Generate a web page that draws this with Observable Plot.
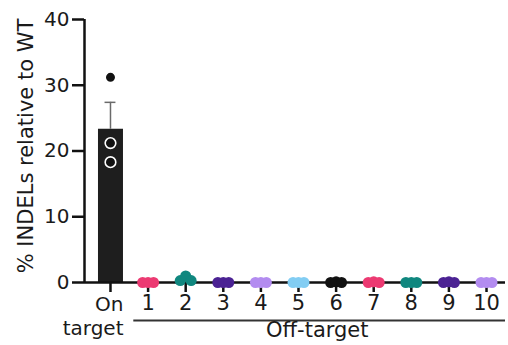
<!DOCTYPE html>
<html>
<head>
<meta charset="utf-8">
<script src="https://cdn.jsdelivr.net/npm/d3@7"></script>
<script src="https://cdn.jsdelivr.net/npm/@observablehq/plot@0.6"></script>
<style>
  html, body { margin: 0; padding: 0; background: #fff; }
  #chart svg { display: block; }
</style>
</head>
<body>
<div id="chart"></div>
<script>
// ---- data ----
const categories = ["On", "1", "2", "3", "4", "5", "6", "7", "8", "9", "10"];
const onTargetReps = [31.2, 21.2, 18.3];
const onTargetMean = 23.3;
const onTargetSem = 4.1;
const offTargetReps = [
  [0, 0, 0],
  [0.3, 1.0, 0.3],
  [0, 0, 0],
  [0, 0, 0],
  [0, 0, 0],
  [0, 0.1, 0],
  [0, 0.1, 0],
  [0, 0, 0],
  [0, 0.1, 0],
  [0, 0, 0]
];
const offTargetColors = ["#ec3a72", "#10877f", "#4b2293", "#b38cf0", "#82cdf3",
                         "#111111", "#ec3a72", "#10877f", "#4b2293", "#b38cf0"];
const yTicks = [0, 10, 20, 30, 40];
const yLabel = "% INDELs relative to WT";
const onSubLabel = "target";
const offGroupLabel = "Off-target";

// ---- derived tables ----
const xMin = -0.691, xMax = 10.505;
const jitter = 0.145;
const onDots = onTargetReps.map((v, r) => ({i: 0, v}));
const offDots = [];
offTargetReps.forEach((reps, k) => {
  reps.forEach((v, r) => offDots.push({i: k + 1, x: k + 1 + (r - 1) * jitter, v, c: offTargetColors[k]}));
});
const offIdx = offTargetReps.map((_, k) => k + 1);
const offMid = d3.mean(offIdx);
const onLabel = categories[0] + "\n" + onSubLabel;

const font = "DejaVu Sans";

const chart = Plot.plot({
  width: 508,
  height: 345,
  marginTop: 19,
  marginBottom: 63,
  marginLeft: 84,
  marginRight: 3,
  style: {fontFamily: font, fontSize: "20px", color: "#1a1a1a", background: "#fff"},
  x: {domain: [xMin, xMax], label: null},
  y: {domain: [0, 40], label: null},
  marks: [
    // on-target bar
    Plot.ruleX([onTargetMean], {x: 0, y1: 0, y2: d => d, stroke: "#1e1e1e", strokeWidth: 25}),
    // error bar
    Plot.ruleX([onTargetMean], {x: 0, y1: d => d, y2: d => d + onTargetSem, stroke: "#6a6a6a", strokeWidth: 1.5}),
    Plot.ruleY([onTargetMean + onTargetSem], {x1: -jitter, x2: jitter, y: d => d, stroke: "#6a6a6a", strokeWidth: 1.5}),
    // axes lines
    Plot.ruleX([xMin], {y1: 0, y2: 40, stroke: "#111", strokeWidth: 2.5}),
    Plot.ruleY([0], {x1: xMin, x2: xMax, stroke: "#111", strokeWidth: 2.5}),
    Plot.axisY({ticks: yTicks, tickSize: 12, tickPadding: 3, strokeWidth: 2.5, stroke: "#111", fill: "#1a1a1a", fontSize: 20, label: null}),
    Plot.axisX({ticks: d3.range(categories.length), tickFormat: i => (i === 0 ? null : categories[i]), tickSize: 10, tickPadding: 3, strokeWidth: 2.5, stroke: "#111", fill: "#1a1a1a", fontSize: 21, label: null}),
    // "On target" two-line label, right-aligned under the bar
    Plot.text([onLabel], {x: 0, y: 0, dx: 13, dy: 12, textAnchor: "end", lineAnchor: "top", lineHeight: 1.17, fontSize: 20, fill: "#1a1a1a"}),
    // on-target replicate dots
    Plot.dot(onDots, {x: "i", y: "v", r: 5.3, fill: "#111", stroke: "#fff", strokeWidth: 1.6}),
    // off-target replicate dots
    Plot.dot(offDots, {x: "x", y: "v", r: 5.5, fill: "c", stroke: "none"}),
    // off-target group
    Plot.ruleY([0], {x1: offIdx[0] - 0.38, x2: xMax, dy: 38, stroke: "#333", strokeWidth: 2}),
    Plot.text([offGroupLabel], {x: offMid, y: 0, dy: 48, fontSize: 21, fill: "#1a1a1a"}),
    // y label
    Plot.text([yLabel], {frameAnchor: "left", textAnchor: "middle", rotate: -90, dx: -58, dy: -5, fontSize: 21, fill: "#1a1a1a"})
  ]
});
document.getElementById("chart").appendChild(chart);
</script>
</body>
</html>
